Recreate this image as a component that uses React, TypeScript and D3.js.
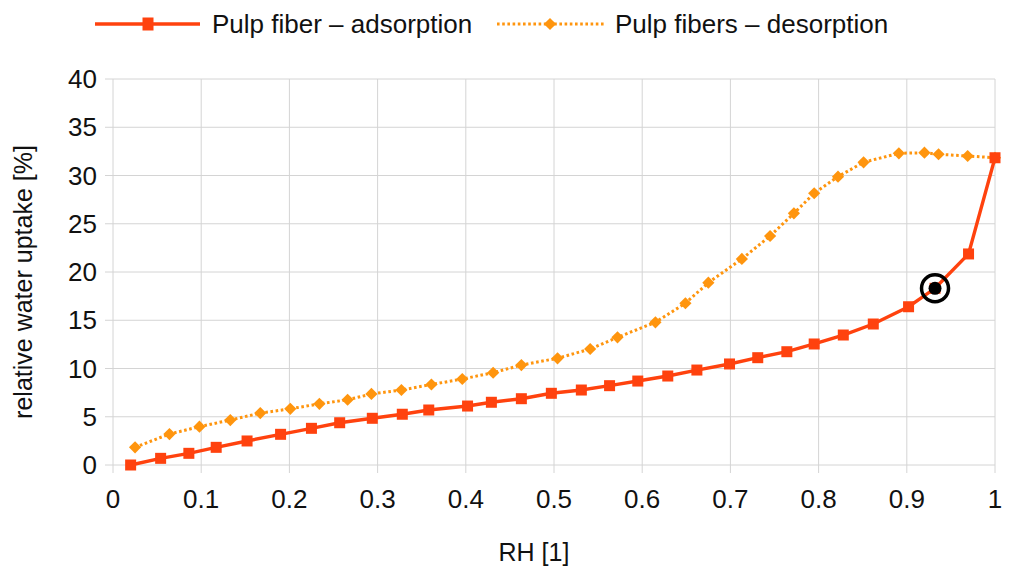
import React, { useEffect, useRef } from "react";
import * as d3 from "d3";

const adsRH = [0.020, 0.054, 0.086, 0.117, 0.152, 0.190, 0.225, 0.257, 0.294, 0.328, 0.358, 0.402, 0.429, 0.463, 0.497, 0.531, 0.563, 0.595, 0.629, 0.662, 0.699, 0.731, 0.764, 0.795, 0.828, 0.862, 0.902, 0.932, 0.970, 1.000];
const adsUptake = [0, 0.69, 1.21, 1.83, 2.49, 3.18, 3.80, 4.38, 4.84, 5.26, 5.70, 6.11, 6.50, 6.87, 7.43, 7.77, 8.22, 8.70, 9.22, 9.84, 10.47, 11.12, 11.74, 12.54, 13.47, 14.61, 16.40, 18.31, 21.87, 31.84];

const desRH = [0.025, 0.064, 0.098, 0.133, 0.167, 0.201, 0.234, 0.266, 0.293, 0.327, 0.361, 0.396, 0.431, 0.463, 0.504, 0.541, 0.572, 0.615, 0.649, 0.675, 0.713, 0.745, 0.772, 0.795, 0.822, 0.851, 0.891, 0.920, 0.936, 0.969, 1.000];
const desUptake = [1.83, 3.21, 3.97, 4.66, 5.38, 5.82, 6.34, 6.76, 7.36, 7.77, 8.34, 8.91, 9.56, 10.36, 11.06, 12.02, 13.23, 14.79, 16.76, 18.89, 21.35, 23.73, 26.08, 28.16, 29.88, 31.37, 32.30, 32.36, 32.20, 32.02, 31.84];

const xTicks = [0, 0.1, 0.2, 0.3, 0.4, 0.5, 0.6, 0.7, 0.8, 0.9, 1];
const yTicks = [0, 5, 10, 15, 20, 25, 30, 35, 40];

const seriesNames = ["Pulp fiber – adsorption", "Pulp fibers – desorption"];
const xTitle = "RH [1]";
const yTitle = "relative water uptake [%]";
const marked = { rh: 0.932, uptake: 18.31 };

const ADS_COLOR = "#ff420e";
const DES_COLOR = "#ff950e";
const FONT = "'Liberation Sans', Arial, sans-serif";

export default function App() {
  const ref = useRef<SVGSVGElement>(null);

  useEffect(() => {
    const svg = d3.select(ref.current);
    svg.selectAll("*").remove();

    const left = 113, right = 995, top = 79, bottom = 465;
    const x = d3.scaleLinear().domain([0, 1]).range([left, right]);
    const y = d3.scaleLinear().domain([0, 40]).range([bottom, top]);

    const g = svg.append("g");

    // grid
    g.selectAll("line.hg").data(yTicks).enter().append("line")
      .attr("x1", left - 8).attr("x2", right)
      .attr("y1", (d) => y(d)).attr("y2", (d) => y(d))
      .attr("stroke", "#d4d4d4").attr("stroke-width", 1);
    g.selectAll("line.vg").data(xTicks).enter().append("line")
      .attr("x1", (d) => x(d)).attr("x2", (d) => x(d))
      .attr("y1", top).attr("y2", bottom + 8)
      .attr("stroke", "#d4d4d4").attr("stroke-width", 1);

    // tick labels
    g.selectAll("text.yt").data(yTicks).enter().append("text")
      .attr("x", 97).attr("y", (d) => y(d) + 9)
      .attr("text-anchor", "end")
      .attr("font-family", FONT).attr("font-size", 26).attr("fill", "#111")
      .text((d) => String(d));
    g.selectAll("text.xt").data(xTicks).enter().append("text")
      .attr("x", (d) => x(d)).attr("y", 508)
      .attr("text-anchor", "middle")
      .attr("font-family", FONT).attr("font-size", 26).attr("fill", "#111")
      .text((d) => String(d));

    // titles
    g.append("text").attr("x", 534).attr("y", 561)
      .attr("text-anchor", "middle")
      .attr("font-family", FONT).attr("font-size", 25).attr("fill", "#111")
      .text(xTitle);
    g.append("text")
      .attr("transform", `translate(32, ${282}) rotate(-90)`)
      .attr("text-anchor", "middle")
      .attr("font-family", FONT).attr("font-size", 25).attr("fill", "#111")
      .text(yTitle);

    const ads = adsRH.map((r, i) => [r, adsUptake[i]] as [number, number]);
    const des = desRH.map((r, i) => [r, desUptake[i]] as [number, number]);
    const line = d3.line<[number, number]>().x((d) => x(d[0])).y((d) => y(d[1]));

    // desorption
    g.append("path").attr("d", line(des)!)
      .attr("fill", "none").attr("stroke", DES_COLOR)
      .attr("stroke-width", 3).attr("stroke-dasharray", "2.6 2.6");
    const diamond = d3.symbol().type(d3.symbolDiamond2).size(95);
    g.selectAll("path.dm").data(des).enter().append("path")
      .attr("d", diamond()!)
      .attr("transform", (d) => `translate(${x(d[0])},${y(d[1])})`)
      .attr("fill", DES_COLOR);

    // adsorption
    g.append("path").attr("d", line(ads)!)
      .attr("fill", "none").attr("stroke", ADS_COLOR)
      .attr("stroke-width", 3.4);
    g.selectAll("rect.sq").data(ads).enter().append("rect")
      .attr("x", (d) => x(d[0]) - 5.5).attr("y", (d) => y(d[1]) - 5.5)
      .attr("width", 11).attr("height", 11)
      .attr("fill", ADS_COLOR);

    // annotation marker
    g.append("circle").attr("cx", x(marked.rh)).attr("cy", y(marked.uptake))
      .attr("r", 13.5).attr("fill", "none").attr("stroke", "#000").attr("stroke-width", 3.5);
    g.append("circle").attr("cx", x(marked.rh)).attr("cy", y(marked.uptake))
      .attr("r", 6.5).attr("fill", "#000");

    // legend
    const ly = 24;
    g.append("line").attr("x1", 95).attr("x2", 200).attr("y1", ly).attr("y2", ly)
      .attr("stroke", ADS_COLOR).attr("stroke-width", 3.4);
    g.append("rect").attr("x", 142.5).attr("y", ly - 6.5).attr("width", 11).attr("height", 13)
      .attr("fill", ADS_COLOR);
    g.append("text").attr("x", 212).attr("y", ly + 9)
      .attr("font-family", FONT).attr("font-size", 26).attr("fill", "#111")
      .text(seriesNames[0]);

    g.append("line").attr("x1", 497).attr("x2", 605).attr("y1", ly).attr("y2", ly)
      .attr("stroke", DES_COLOR).attr("stroke-width", 3).attr("stroke-dasharray", "2.6 2.6");
    g.append("path").attr("d", diamond()!)
      .attr("transform", `translate(550,${ly})`).attr("fill", DES_COLOR);
    g.append("text").attr("x", 615).attr("y", ly + 9)
      .attr("font-family", FONT).attr("font-size", 26).attr("fill", "#111")
      .text(seriesNames[1]);
  }, []);

  return (
    <svg ref={ref} width={1012} height={570}
      style={{ position: "absolute", left: 0, top: 0, background: "#fff" }} />
  );
}
